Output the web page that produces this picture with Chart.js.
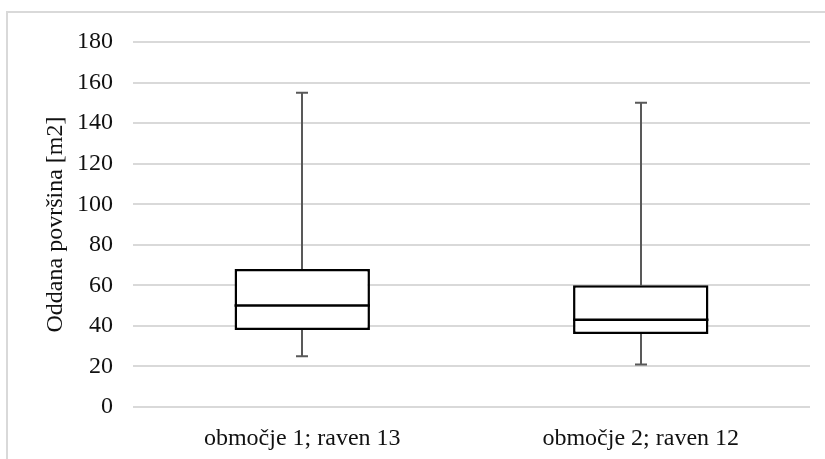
<!DOCTYPE html>
<html>
<head>
<meta charset="utf-8">
<script src="https://cdn.jsdelivr.net/npm/chart.js@4.4.0/dist/chart.umd.min.js"></script>
<style>
  html, body { margin: 0; padding: 0; background: #fff; overflow: hidden; }
  #frame { position: absolute; left: 6px; top: 11px; width: 840px; height: 470px;
           border-left: 2px solid #d9d9d9; border-top: 2px solid #d9d9d9; }
  #wrap { position: absolute; left: 0; top: 0; width: 825px; height: 459px; }
</style>
</head>
<body>
<div id="frame"></div>
<div id="wrap"><canvas id="boxChart" width="825" height="459"></canvas></div>
<script>
// Box plot values
const categories = ["območje 1; raven 13", "območje 2; raven 12"];
const minValues = [25, 21];
const q1Values = [38, 36];
const medianValues = [50, 43];
const q3Values = [68, 60];
const maxValues = [155, 150];
const yTicks = [0, 20, 40, 60, 80, 100, 120, 140, 160, 180];

const FONT = "'Liberation Serif', 'Times New Roman', serif";

// whiskers under the boxes and median lines on top, placed through the chart scales
const whiskerPlugin = {
    id: "whiskers",
    beforeDatasetsDraw(chart) {
        const ctx = chart.ctx;
        const x = chart.scales.x;
        const y = chart.scales.y;
        ctx.save();
        ctx.strokeStyle = "#595959";
        ctx.lineWidth = 2;
        categories.forEach((c, i) => {
            const cx = Math.round(x.getPixelForValue(i));
            const yMin = y.getPixelForValue(minValues[i]);
            const yMax = y.getPixelForValue(maxValues[i]);
            const yQ1 = y.getPixelForValue(q1Values[i]);
            const yQ3 = y.getPixelForValue(q3Values[i]);
            ctx.beginPath();
            ctx.moveTo(cx, yMax); ctx.lineTo(cx, yQ3);
            ctx.moveTo(cx, yQ1); ctx.lineTo(cx, yMin);
            ctx.moveTo(cx - 6, yMax); ctx.lineTo(cx + 6, yMax);
            ctx.moveTo(cx - 6, yMin); ctx.lineTo(cx + 6, yMin);
            ctx.stroke();
        });
        ctx.restore();
    },
    afterDatasetsDraw(chart) {
        const ctx = chart.ctx;
        const y = chart.scales.y;
        const meta = chart.getDatasetMeta(0);
        ctx.save();
        ctx.strokeStyle = "#000000";
        ctx.lineWidth = 2.5;
        meta.data.forEach((bar, i) => {
            const ym = y.getPixelForValue(medianValues[i]);
            ctx.beginPath();
            ctx.moveTo(bar.x - bar.width / 2, ym);
            ctx.lineTo(bar.x + bar.width / 2, ym);
            ctx.stroke();
        });
        ctx.restore();
    }
};

new Chart(document.getElementById("boxChart"), {
    type: "bar",
    data: {
        labels: categories,
        datasets: [{
            label: "Q1-Q3",
            data: categories.map((c, i) => [q1Values[i], q3Values[i]]),
            backgroundColor: "#ffffff",
            borderColor: "#000000",
            borderWidth: 2.5,
            borderSkipped: false,
            categoryPercentage: 1,
            barPercentage: 0.4
        }]
    },
    options: {
        responsive: false,
        animation: false,
        layout: { padding: { top: 42, right: 15, bottom: 6, left: 0 } },
        plugins: { legend: { display: false }, tooltip: { enabled: false } },
        scales: {
            x: {
                afterFit: (s) => { s.height = 46; },
                grid: { display: false, drawTicks: false },
                border: { display: false },
                ticks: { color: "#111111", font: { family: FONT, size: 24 }, padding: 17, maxRotation: 0 }
            },
            y: {
                min: 0,
                max: 180,
                afterBuildTicks: (s) => { s.ticks = yTicks.map(v => ({ value: v })); },
                afterFit: (s) => { s.width = 133; },
                grid: { color: "#d9d9d9", lineWidth: 2, drawTicks: false },
                border: { display: false },
                ticks: { color: "#111111", font: { family: FONT, size: 24 }, padding: 20 },
                title: {
                    display: true,
                    text: "Oddana površina [m2]",
                    color: "#111111",
                    font: { family: FONT, size: 24 },
                    padding: { top: 41, bottom: 0 }
                }
            }
        }
    },
    plugins: [whiskerPlugin]
});
</script>
</body>
</html>
